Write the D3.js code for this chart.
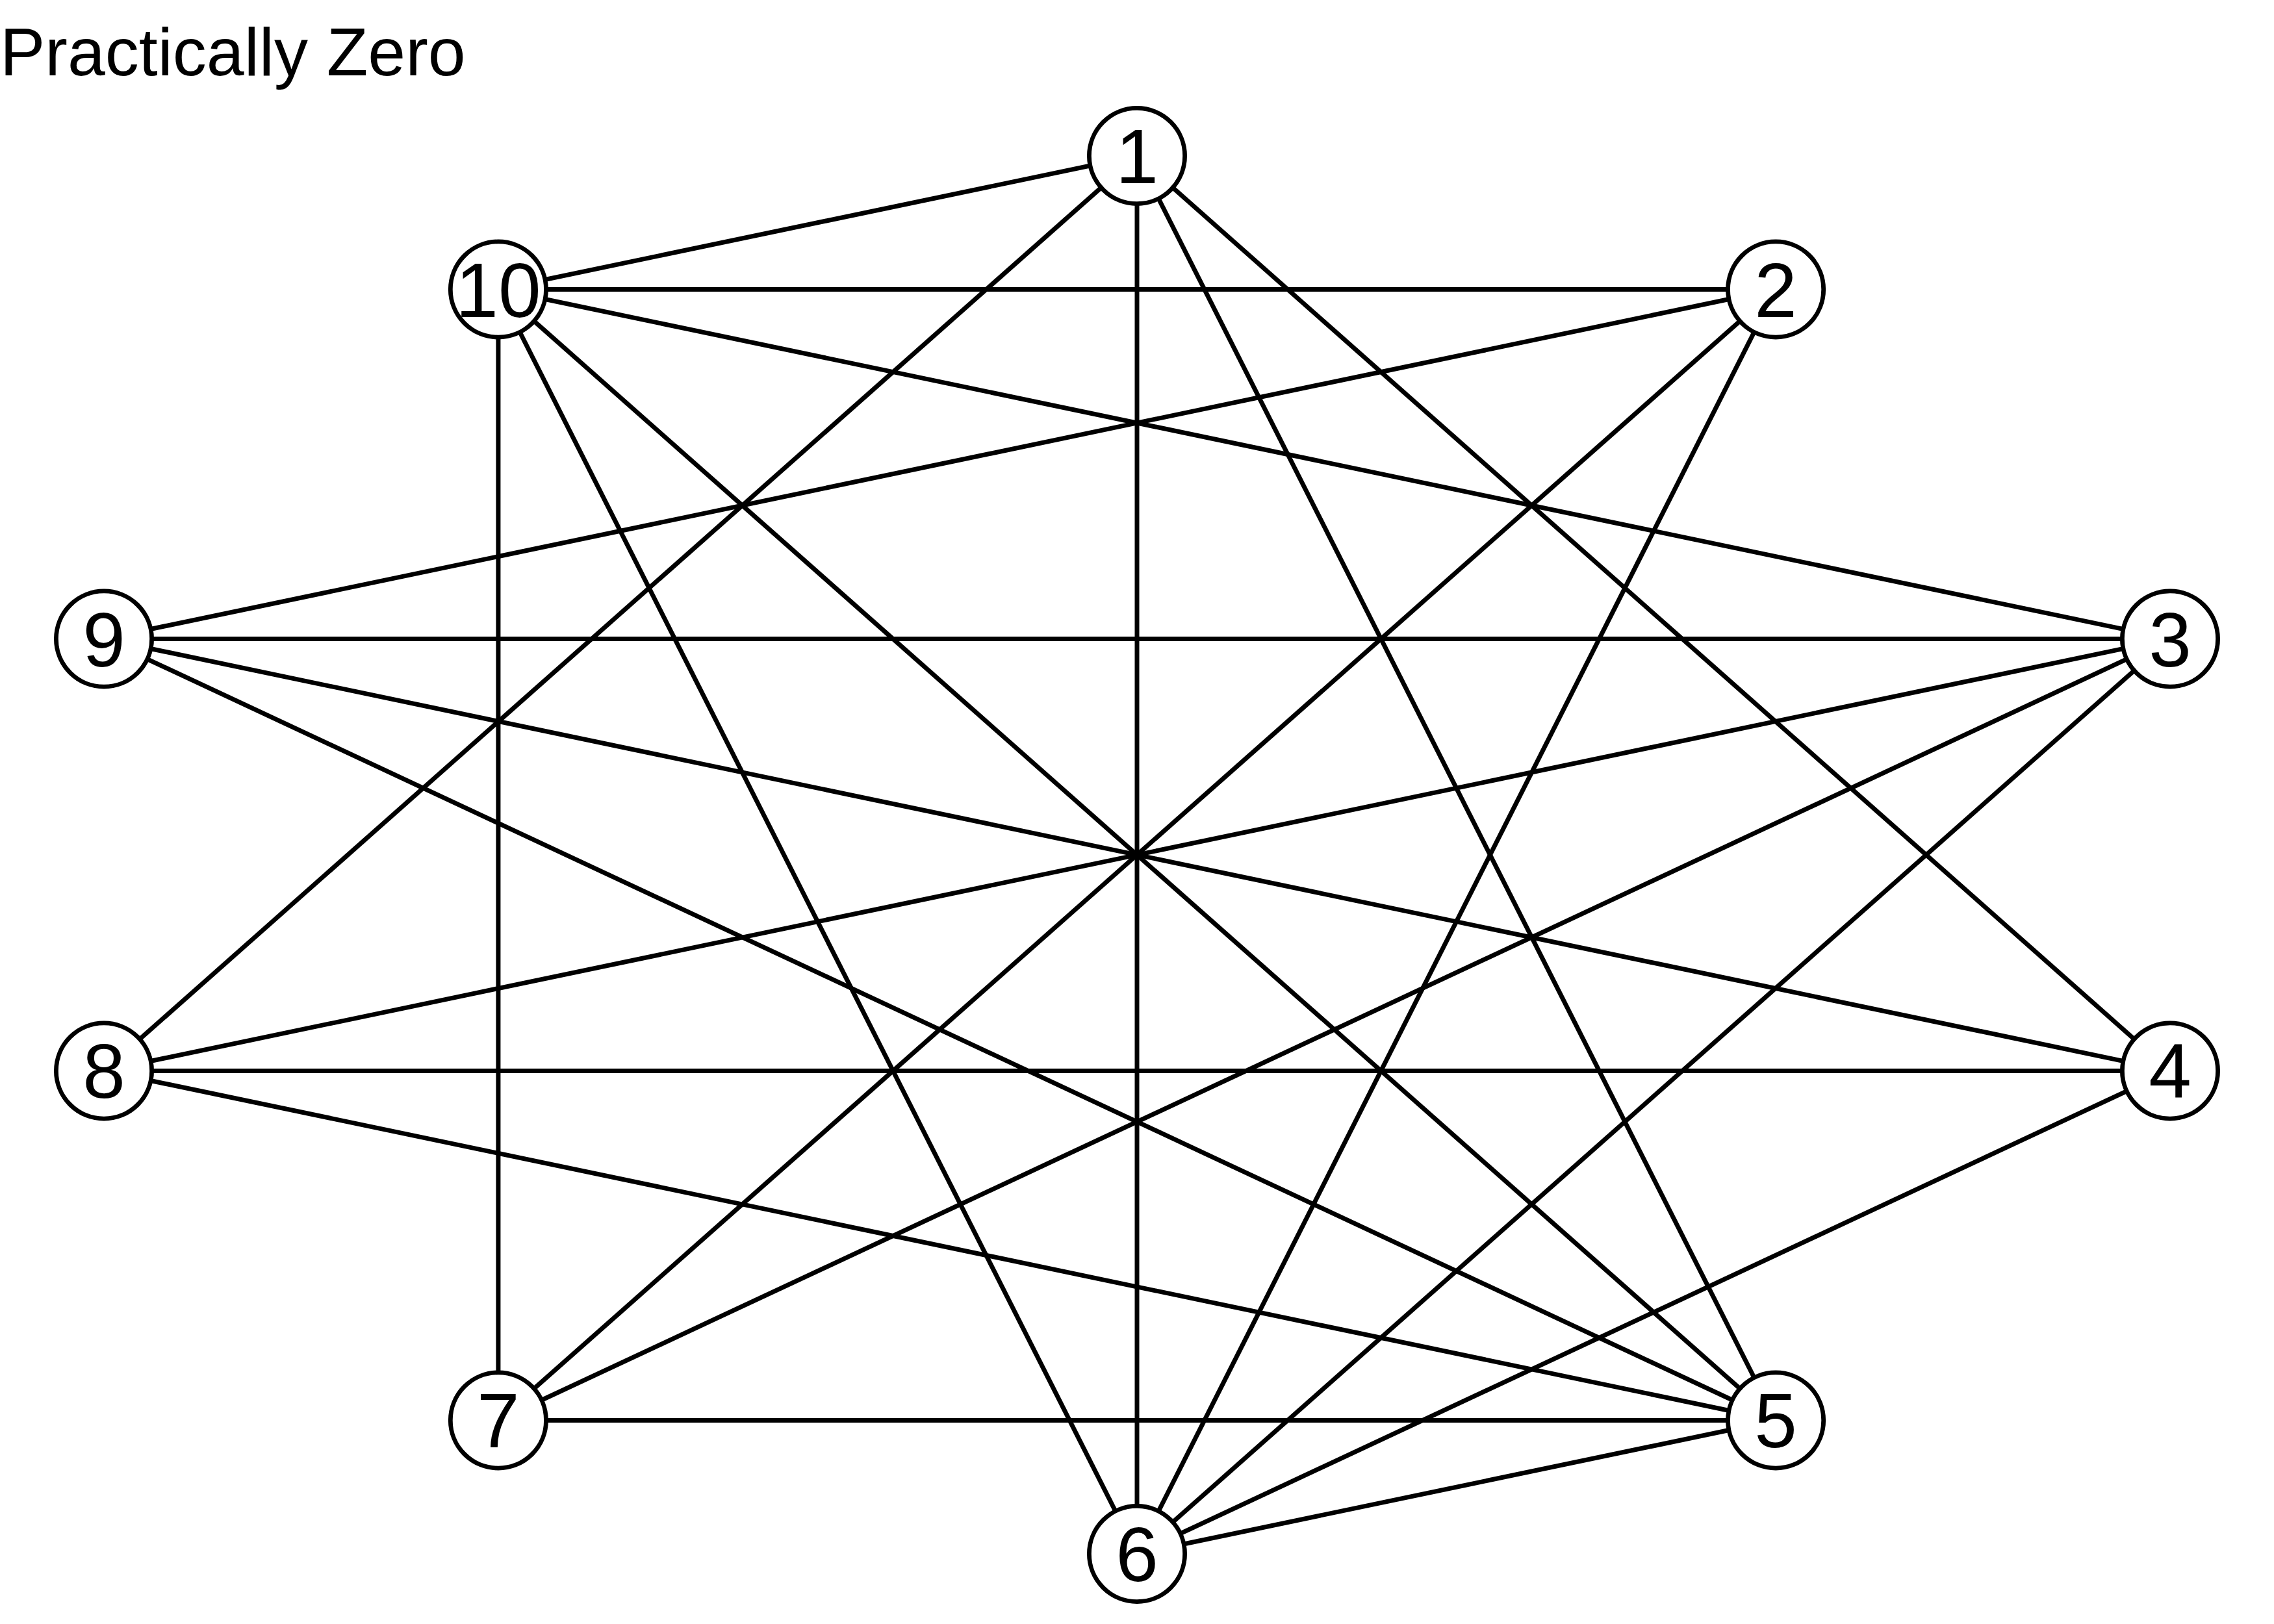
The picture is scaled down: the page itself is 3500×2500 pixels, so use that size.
<!DOCTYPE html>
<html>
<head>
<meta charset="utf-8">
<script src="https://cdn.jsdelivr.net/npm/d3@7/dist/d3.min.js"></script>
<style>
  html, body { margin: 0; padding: 0; background: #ffffff; }
  svg { display: block; }
</style>
</head>
<body>
<svg id="chart" width="3500" height="2500"></svg>
<script>
// ---- data ----
const title = "Practically Zero";
const nodeIds = [1, 2, 3, 4, 5, 6, 7, 8, 9, 10];
// circle layout coordinates (unit circle)
const layoutX = [0, 0.588, 0.951, 0.951, 0.588, 0, -0.588, -0.951, -0.951, -0.588];
const layoutY = [1, 0.809, 0.309, -0.309, -0.809, -1, -0.809, -0.309, 0.309, 0.809];
const edgeFrom = [1, 1, 1, 1, 1, 2, 2, 2, 2, 3, 3, 3, 3, 3, 4, 4, 4, 5, 5, 5, 5, 5, 6, 7];
const edgeTo   = [10, 6, 8, 5, 4, 10, 9, 7, 6, 10, 9, 8, 7, 6, 9, 8, 6, 10, 9, 8, 7, 6, 10, 10];

// ---- drawing ----
const svg = d3.select("#chart");
const font = "'Liberation Sans', Arial, Helvetica, sans-serif";

const x = d3.scaleLinear().domain([-0.951, 0.951]).range([160, 3340]);
const y = d3.scaleLinear().domain([-1, 1]).range([2392, 240]);

const nodes = nodeIds.map((id, i) => ({ id, x: layoutX[i], y: layoutY[i] }));
const byId = new Map(nodes.map(n => [n.id, n]));
const edges = edgeFrom.map((f, i) => ({ source: byId.get(f), target: byId.get(edgeTo[i]) }));

svg.append("rect").attr("width", 3500).attr("height", 2500).attr("fill", "#ffffff");

svg.append("text")
  .attr("x", 0)
  .attr("y", 116)
  .attr("font-family", font)
  .attr("font-size", 104)
  .attr("fill", "#000000")
  .text(title);

svg.append("g").selectAll("line")
  .data(edges)
  .join("line")
  .attr("x1", d => x(d.source.x))
  .attr("y1", d => y(d.source.y))
  .attr("x2", d => x(d.target.x))
  .attr("y2", d => y(d.target.y))
  .attr("stroke", "#000000")
  .attr("stroke-width", 7);

const g = svg.append("g").selectAll("g")
  .data(nodes)
  .join("g")
  .attr("transform", d => `translate(${x(d.x)},${y(d.y)})`);

g.append("circle")
  .attr("r", 73.6)
  .attr("fill", "#ffffff")
  .attr("stroke", "#000000")
  .attr("stroke-width", 6.8);

g.append("text")
  .attr("text-anchor", "middle")
  .attr("y", 42)
  .attr("font-family", font)
  .attr("font-size", 118)
  .attr("fill", "#000000")
  .text(d => d.id);
</script>
</body>
</html>
